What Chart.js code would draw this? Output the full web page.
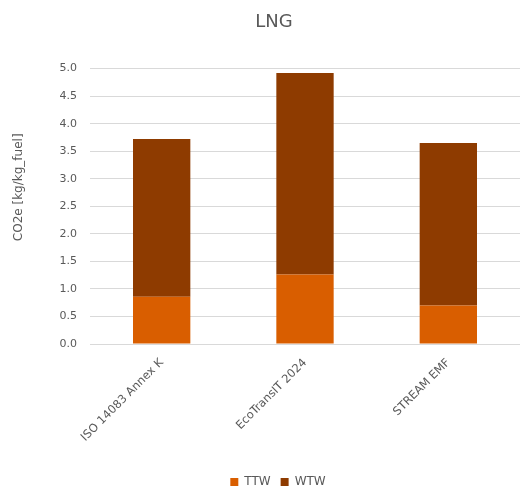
<!DOCTYPE html>
<html>
<head>
<meta charset="utf-8">
<script src="https://cdn.jsdelivr.net/npm/chart.js@4/dist/chart.umd.min.js"></script>
<style>
  html, body { margin: 0; padding: 0; background: #ffffff; }
  #wrap { width: 520px; height: 491px; }
</style>
</head>
<body>
<div id="wrap"><canvas id="c" width="520" height="491"></canvas></div>
<script>
// Emission factor sources compared for LNG
const categories = ['ISO 14083 Annex K', 'EcoTransIT 2024', 'STREAM EMF'];
// Tank-to-wake part (lower segment)
const ttwValues = [0.86, 1.26, 0.70];
// Well-to-tank remainder stacked on top, giving the WTW total
const wtwValues = [2.86, 3.66, 2.95];
const yTicks = [0, 0.5, 1, 1.5, 2, 2.5, 3, 3.5, 4, 4.5, 5];

const textColor = '#595959';
const gridColor = '#D9D9D9';
const font = 'DejaVu Sans';

// Nudge the title and legend slightly right, and lift the y-axis title a bit
const blockShift = {
  id: 'blockShift',
  afterLayout(chart) {
    if (chart.titleBlock) { chart.titleBlock.left += 14; chart.titleBlock.right += 14; }
    if (chart.legend) { chart.legend.left += 18; chart.legend.right += 18; }
    const y = chart.scales.y;
    if (y && !y._titlePatched) {
      const orig = y.drawTitle.bind(y);
      y.drawTitle = function () {
        const t = this.top, b = this.bottom;
        this.top -= 19; this.bottom -= 19;
        orig();
        this.top = t; this.bottom = b;
      };
      y._titlePatched = true;
    }
  }
};

new Chart(document.getElementById('c'), {
  type: 'bar',
  data: {
    labels: categories,
    datasets: [
      { label: 'TTW', data: ttwValues, backgroundColor: '#D95E00', borderWidth: 0,
        categoryPercentage: 1, barPercentage: 0.4 },
      { label: 'WTW', data: wtwValues, backgroundColor: '#8E3B00', borderWidth: 0,
        categoryPercentage: 1, barPercentage: 0.4 }
    ]
  },
  plugins: [blockShift],
  options: {
    responsive: false,
    animation: false,
    layout: { padding: { left: 0, right: 0, top: 0, bottom: -7 } },
    plugins: {
      title: {
        display: true, text: 'LNG', color: textColor,
        font: { family: font, size: 18, weight: 'normal' },
        padding: { top: 12, bottom: 35 }
      },
      legend: {
        position: 'bottom',
        labels: {
          color: textColor, font: { family: font, size: 12 },
          boxWidth: 8, boxHeight: 8, padding: 10
        }
      },
      tooltip: { enabled: false }
    },
    scales: {
      x: {
        stacked: true,
        afterFit: s => { s.height = 122; },
        grid: { display: false },
        border: { display: false },
        ticks: { color: textColor, font: { family: font, size: 11.5 }, minRotation: 45, maxRotation: 45, padding: 4 }
      },
      y: {
        stacked: true,
        min: 0, max: 5,
        afterBuildTicks: s => { s.ticks = yTicks.map(v => ({ value: v })); },
        afterFit: s => { s.width = 90; },
        grid: { color: gridColor, lineWidth: 1, drawTicks: false },
        border: { display: false },
        ticks: {
          color: textColor, font: { family: font, size: 11 }, padding: 13,
          callback: v => Number(v).toFixed(1)
        },
        title: {
          display: true, text: 'CO2e [kg/kg_fuel]', color: textColor,
          font: { family: font, size: 12 }, padding: { top: 12, bottom: 4 }
        }
      }
    }
  }
});
</script>
</body>
</html>
